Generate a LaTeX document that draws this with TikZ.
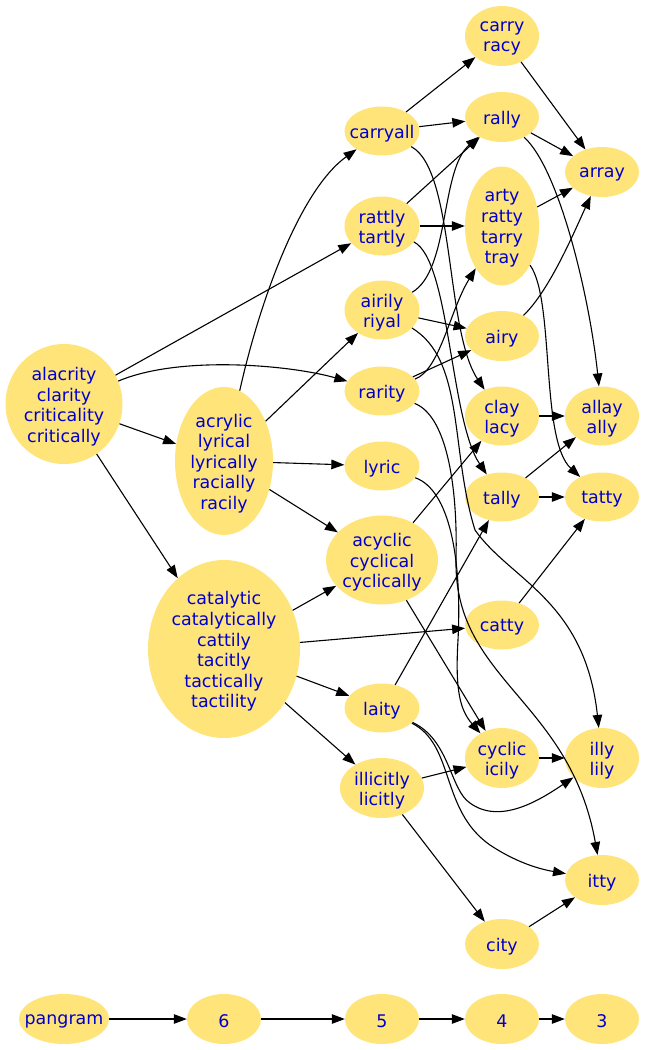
\documentclass[tikz,border=0pt]{standalone}
\usepackage{fontspec}
\setmainfont{DejaVu Sans}
\usetikzlibrary{shapes.geometric,arrows.meta}
\definecolor{nodefill}{RGB}{255,228,122}
\definecolor{nodetext}{RGB}{0,0,205}
\newcommand\wnode[5]{%
  \node[blob,minimum width=#3,minimum height=#4] (#1) at (#2) {};
  \node[wtext] (#1-t) at (#1) {#5};}
\begin{document}
\begin{tikzpicture}[x=1bp,y=-1bp,
  blob/.style={ellipse,fill=nodefill,draw=none,inner sep=0pt},
  wtext/.style={inner sep=0pt,align=center,text=nodetext,yshift=-2.5bp,font=\fontsize{17.5}{20.7}\selectfont},
  arr/.style={draw=black,line width=1.1bp,-{Triangle[length=13bp,width=9.5bp]}}]
\useasboundingbox (0,0) rectangle (645,1050);
% column 1-2
\wnode{alacrity}{64,404}{117bp}{120bp}{alacrity\\clarity\\criticality\\critically}
\wnode{acrylic}{224,461}{98bp}{148bp}{acrylic\\lyrical\\lyrically\\racially\\racily}
\wnode{catalytic}{224,649}{152bp}{178bp}{catalytic\\catalytically\\cattily\\tacitly\\tactically\\tactility}
% column 3
\wnode{carryall}{382,131}{75bp}{49bp}{carryall}
\wnode{rattly}{382,226}{75bp}{59bp}{rattly\\tartly}
\wnode{airily}{382,310}{75bp}{59bp}{airily\\riyal}
\wnode{rarity}{382,391}{75bp}{49bp}{rarity}
\wnode{lyric}{382,466}{75bp}{49bp}{lyric}
\wnode{acyclic}{382,560}{112bp}{89bp}{acyclic\\cyclical\\cyclically}
\wnode{laity}{382,708}{75bp}{49bp}{laity}
\wnode{illicitly}{382,788}{84bp}{60bp}{illicitly\\licitly}
% column 4
\wnode{carry}{502,36}{74bp}{60bp}{carry\\racy}
\wnode{rally}{502,117}{74bp}{50bp}{rally}
\wnode{arty}{502,226}{74bp}{119bp}{arty\\ratty\\tarry\\tray}
\wnode{airy}{502,336}{74bp}{50bp}{airy}
\wnode{clay}{502,416}{74bp}{59bp}{clay\\lacy}
\wnode{tally}{502,497}{74bp}{49bp}{tally}
\wnode{catty}{502,625}{74bp}{49bp}{catty}
\wnode{cyclic}{502,758}{74bp}{60bp}{cyclic\\icily}
\wnode{city}{502,944}{74bp}{50bp}{city}
% column 5
\wnode{array}{602,172}{74bp}{50bp}{array}
\wnode{allay}{602,416}{74bp}{59bp}{allay\\ally}
\wnode{tatty}{602,497}{74bp}{49bp}{tatty}
\wnode{illy}{602,758}{74bp}{60bp}{illy\\lily}
\wnode{itty}{602,880}{74bp}{50bp}{itty}
% legend
\wnode{pangram}{64,1019}{90bp}{50bp}{pangram}
\wnode{r6}{224,1019}{74bp}{50bp}{6}
\wnode{r5}{382,1019}{74bp}{50bp}{5}
\wnode{r4}{502,1019}{74bp}{50bp}{4}
\wnode{r3}{602,1019}{74bp}{50bp}{3}

% edges from alacrity
\draw[arr] (alacrity) -- (rattly);
\draw[arr] (alacrity) .. controls (180,355) and (290,365) .. (rarity);
\draw[arr] (alacrity) -- (acrylic);
\draw[arr] (alacrity) -- (catalytic);
% acrylic
\draw[arr] (acrylic) .. controls (260,300) and (300,190) .. (carryall);
\draw[arr] (acrylic) -- (airily);
\draw[arr] (acrylic) -- (lyric);
\draw[arr] (acrylic) -- (acyclic);
% catalytic
\draw[arr] (catalytic) -- (acyclic);
\draw[arr] (catalytic) -- (catty);
\draw[arr] (catalytic) -- (laity);
\draw[arr] (catalytic) -- (illicitly);
% carryall
\draw[arr] (carryall) -- (carry);
\draw[arr] (carryall) -- (rally);
\draw[arr] (carryall) .. controls (455,170) and (445,330) .. (clay);
% rattly
\draw[arr] (rattly) -- (rally);
\draw[arr] (rattly) -- (arty);
\draw[arr] (rattly) .. controls (450,260) and (450,420) .. (tally);
% airily
\draw[arr] (airily) .. controls (450,270) and (440,170) .. (rally);
\draw[arr] (airily) -- (airy);
\draw[arr] (airily) .. controls (465,360) and (450,450) .. (475,530) .. controls (510,580) and (585,600) .. (illy);
% rarity
\draw[arr] (rarity) .. controls (440,370) and (450,310) .. (arty);
\draw[arr] (rarity) -- (airy);
\draw[arr] (rarity) .. controls (445,415) and (458,480) .. (456,560) .. controls (454,680) and (570,700) .. (itty);
% lyric
\draw[arr] (lyric) .. controls (450,490) and (462,560) .. (458,640) .. controls (455,690) and (460,710) .. (cyclic);
% acyclic
\draw[arr] (acyclic) -- (clay);
\draw[arr] (acyclic) -- (cyclic);
% laity
\draw[arr] (laity) -- (tally);
\draw[arr] (laity) .. controls (450,740) and (450,790) .. (470,803) .. controls (500,825) and (540,800) .. (illy);
\draw[arr] (laity) .. controls (455,745) and (440,810) .. (490,845) .. controls (520,865) and (545,870) .. (itty);
% illicitly
\draw[arr] (illicitly) -- (cyclic);
\draw[arr] (illicitly) -- (city);
% column 4 -> column 5
\draw[arr] (carry) -- (array);
\draw[arr] (rally) -- (array);
\draw[arr] (rally) .. controls (560,170) and (590,300) .. (allay);
\draw[arr] (arty) -- (array);
\draw[arr] (arty) .. controls (555,300) and (540,440) .. (tatty);
\draw[arr] (airy) .. controls (550,290) and (575,230) .. (array);
\draw[arr] (clay) -- (allay);
\draw[arr] (tally) -- (allay);
\draw[arr] (tally) -- (tatty);
\draw[arr] (catty) -- (tatty);
\draw[arr] (cyclic) -- (illy);
\draw[arr] (city) -- (itty);
% legend chain
\draw[arr] (pangram) -- (r6);
\draw[arr] (r6) -- (r5);
\draw[arr] (r5) -- (r4);
\draw[arr] (r4) -- (r3);
\end{tikzpicture}
\end{document}
